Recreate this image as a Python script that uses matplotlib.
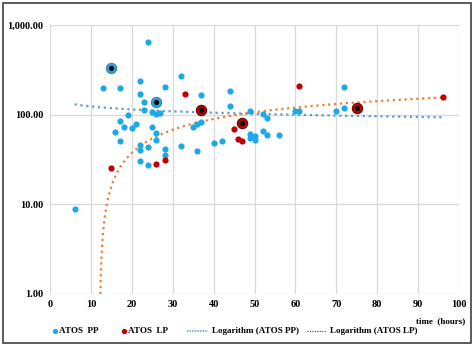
import numpy as np
import matplotlib
matplotlib.use('Agg')
import matplotlib.pyplot as plt
from matplotlib.lines import Line2D
from matplotlib.patches import Rectangle

#==============================================================================
#                         Data
#==============================================================================
pp_x = [6, 13, 15, 16, 17, 17, 17, 18, 19, 20, 21, 22, 22, 22, 22, 22, 23, 23,
        24, 24, 24, 25, 25, 26, 26, 26, 26, 27, 28, 28, 28, 32, 32, 35, 36, 36,
        37, 37, 40, 42, 44, 44, 49, 49, 49, 50, 50, 52, 52, 53, 53, 56, 60, 61,
        70, 72, 72]
pp_y = [8.8, 198, 328, 64, 198, 85, 51, 72, 99, 70, 78, 237, 171, 46, 40, 30,
        137, 112, 651, 43, 27.5, 106, 72, 137, 101, 62, 52, 103, 201, 41.5, 35,
        271, 45, 72, 79, 39, 164, 82, 48, 50, 185, 124, 110, 60, 55, 57, 51.5,
        101, 65.5, 92, 58.6, 59, 110, 110, 110, 205, 117]

lp_x = [15, 26, 28, 33, 37, 45, 46, 47, 47, 61, 75, 96]
lp_y = [25, 28, 31, 171, 113, 69, 53, 50, 80, 210, 119, 156]

# highlighted points (black centre)
pp_hi_x = [15, 26]
pp_hi_y = [328, 137]
lp_hi_x = [37, 47, 75]
lp_hi_y = [113, 80, 119]

x_ticks = [0, 10, 20, 30, 40, 50, 60, 70, 80, 90, 100]
y_ticks = [1, 10, 100, 1000]
y_labels = ['1.00', '10.00', '100.00', '1,000.00']
labels = ['ATOS  PP', 'ATOS  LP', 'Logarithm (ATOS PP)', 'Logarithm (ATOS LP)']

c_pp = '#1DA9E6'
c_lp = '#C00000'
c_pp_trend = '#5B9BD5'
c_lp_trend = '#ED7D31'
font = 'Liberation Serif'
W, H = 474., 346.

#==============================================================================
#                         Logarithmic trendlines
#==============================================================================
a_pp, b_pp = np.polyfit(np.log(pp_x), pp_y, 1)
a_lp, b_lp = np.polyfit(np.log(lp_x), lp_y, 1)
xt = np.linspace(6, 96, 3000)
yt_pp = a_pp*np.log(xt) + b_pp
yt_lp = a_lp*np.log(xt) + b_lp
yt_lp = np.where(yt_lp > 0, yt_lp, np.nan)

#==============================================================================
#                         Plotting
#==============================================================================
fig = plt.figure(figsize=(W/100, H/100), dpi=100)
ax = fig.add_axes([50/W, 1-293.5/H, 409/W, 268.5/H])

ax.plot(xt, yt_pp, ':', color=c_pp_trend, lw=1.6, zorder=2)
ax.plot(xt, yt_lp, ':', color=c_lp_trend, lw=1.6, zorder=2)

ax.scatter(pp_x, pp_y, s=20, color=c_pp, zorder=3, linewidths=0)
ax.scatter(lp_x, lp_y, s=20, color=c_lp, zorder=3, linewidths=0)

ax.scatter(pp_hi_x, pp_hi_y, s=55, color=c_pp, edgecolor='#4A7FB5', linewidths=0.8, zorder=4)
ax.scatter(pp_hi_x, pp_hi_y, s=14, color='black', zorder=5, linewidths=0)
ax.scatter(lp_hi_x, lp_hi_y, s=55, color=c_lp, edgecolor='#700000', linewidths=0.8, zorder=4)
ax.scatter(lp_hi_x, lp_hi_y, s=14, color='black', zorder=5, linewidths=0)

ax.set_yscale('log')
ax.set_xlim(0, 100)
ax.set_ylim(1, 1000)
ax.set_xticks(x_ticks)
ax.set_xticklabels([str(t) for t in x_ticks], fontfamily=font, fontweight='bold', fontsize=7.5)
ax.set_yticks(y_ticks)
ax.set_yticklabels(y_labels, fontfamily=font, fontweight='bold', fontsize=7.5)
ax.yaxis.set_minor_locator(matplotlib.ticker.NullLocator())
ax.tick_params(length=0, pad=5)
ax.grid(True, color='#D9D9D9', lw=0.9)
ax.set_axisbelow(True)
for s in ax.spines.values():
    s.set_visible(False)

fig.text(465/W, 1-321/H, 'time  (hours)', ha='right', va='center',
         fontfamily=font, fontweight='bold', fontsize=6.5)

#------------------------------------------------------------------------------
# legend, placed by hand (handles sit tight against the text)
#------------------------------------------------------------------------------
ly = 1 - 331/H
tf = fig.transFigure
fig.add_artist(Line2D([55/W], [ly], transform=tf, ls='none', marker='o', ms=3.8,
                      color=c_pp, mew=0))
fig.add_artist(Line2D([124/W], [ly], transform=tf, ls='none', marker='o', ms=3.8,
                      color=c_lp, mew=0))
fig.add_artist(Line2D([187/W, 208/W], [ly, ly], transform=tf, ls=(0, (1, 0.7)),
                      lw=1.1, color=c_pp_trend))
fig.add_artist(Line2D([307/W, 326/W], [ly, ly], transform=tf, ls=(0, (1, 1.2)),
                      lw=0.8, color=c_lp))
for x0, lab in zip([59, 128, 212, 330], labels):
    fig.text(x0/W, ly, lab, ha='left', va='center', fontfamily=font,
             fontweight='bold', fontsize=6.5)

# outer border of the chart
fig.patches.append(Rectangle((3/W, 3/H), 468/W, 340/H, transform=tf,
                             fill=False, edgecolor='#404040', lw=1.2))

fig.savefig('out.png', dpi=100)
